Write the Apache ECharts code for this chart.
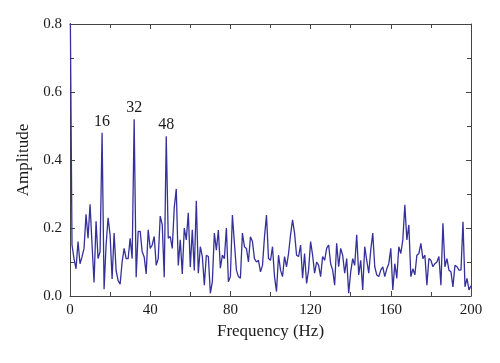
<!DOCTYPE html>
<html>
<head>
<meta charset="utf-8">
<script src="https://cdn.jsdelivr.net/npm/echarts@6/dist/echarts.min.js"></script>
<style>html,body{margin:0;padding:0;background:#fff;}#c{width:500px;height:363px;}</style>
</head>
<body>
<div id="c"></div>
<script>
// Frequency (Hz), 1 Hz step from 0 to 200
const freqs = Array.from({length: 201}, (_, i) => i);
const amplitude = [
  0.95, 0.15, 0.11, 0.08, 0.16, 0.095, 0.115, 0.14, 0.24, 0.17,
  0.27, 0.15, 0.04, 0.22, 0.11, 0.13, 0.48, 0.02, 0.15, 0.23,
  0.18, 0.05, 0.185, 0.075, 0.045, 0.035, 0.10, 0.14, 0.11, 0.11,
  0.17, 0.11, 0.52, 0.055, 0.19, 0.19, 0.13, 0.115, 0.065, 0.195,
  0.14, 0.15, 0.175, 0.09, 0.11, 0.235, 0.21, 0.055, 0.47, 0.17,
  0.175, 0.14, 0.26, 0.315, 0.09, 0.165, 0.065, 0.2, 0.165, 0.245,
  0.085, 0.195, 0.075, 0.28, 0.067, 0.145, 0.116, 0.032, 0.12, 0.116,
  0.008, 0.042, 0.185, 0.135, 0.194, 0.082, 0.12, 0.11, 0.2, 0.042,
  0.057, 0.238, 0.155, 0.076, 0.057, 0.052, 0.185, 0.145, 0.14, 0.10,
  0.174, 0.16, 0.11, 0.10, 0.105, 0.071, 0.09, 0.174, 0.238, 0.11,
  0.105, 0.145, 0.057, 0.013, 0.12, 0.076, 0.057, 0.116, 0.086, 0.125,
  0.18, 0.224, 0.185, 0.12, 0.116, 0.15, 0.052, 0.125, 0.037, 0.076,
  0.16, 0.12, 0.067, 0.10, 0.09, 0.057, 0.116, 0.105, 0.14, 0.15,
  0.095, 0.076, 0.032, 0.155, 0.086, 0.14, 0.12, 0.067, 0.11, 0.008,
  0.071, 0.11, 0.09, 0.18, 0.062, 0.105, 0.018, 0.145, 0.105, 0.067,
  0.135, 0.185, 0.086, 0.062, 0.057, 0.076, 0.086, 0.057, 0.08, 0.095,
  0.14, 0.018, 0.095, 0.052, 0.145, 0.125, 0.165, 0.268, 0.165, 0.209,
  0.057, 0.08, 0.062, 0.12, 0.125, 0.155, 0.11, 0.12, 0.032, 0.11,
  0.105, 0.086, 0.095, 0.10, 0.116, 0.032, 0.214, 0.086, 0.11, 0.076,
  0.071, 0.027, 0.09, 0.086, 0.076, 0.076, 0.218, 0.027, 0.052, 0.018,
  0.03
];
const peakLabels = [16, 32, 48];
const xTicks = {min: 0, max: 200, interval: 40};
const yTicks = {min: 0, max: 0.8, interval: 0.2};

const font = 'Liberation Serif';
const axisColor = '#444';
const textColor = '#1a1a1a';

const lineData = freqs.map((f, i) => [f, amplitude[i]]);
const peakData = peakLabels.map(f => [f, amplitude[freqs.indexOf(f)]]);

function baseAxis(extra) {
  return Object.assign({
    type: 'value',
    axisLine: {show: true, onZero: false, lineStyle: {color: axisColor, width: 1}},
    axisTick: {show: true, inside: true, length: 5, lineStyle: {color: axisColor}},
    minorTick: {show: true, splitNumber: 2, length: 4, lineStyle: {color: axisColor}},
    splitLine: {show: false},
    minorSplitLine: {show: false}
  }, extra);
}

const chart = echarts.init(document.getElementById('c'), null, {renderer: 'canvas'});
chart.setOption({
  animation: false,
  backgroundColor: '#fff',
  grid: {left: 70, right: 29, top: 24, bottom: 67},
  xAxis: [
    baseAxis(Object.assign({}, xTicks, {
      position: 'bottom',
      name: 'Frequency (Hz)', nameLocation: 'middle', nameGap: 27,
      nameTextStyle: {fontFamily: font, fontSize: 17, color: textColor},
      axisLabel: {fontFamily: font, fontSize: 15, color: textColor, margin: 7}
    })),
    baseAxis(Object.assign({}, xTicks, {position: 'top', axisLabel: {show: false}}))
  ],
  yAxis: [
    baseAxis(Object.assign({}, yTicks, {
      position: 'left',
      name: 'Amplitude', nameLocation: 'middle', nameGap: 32,
      nameTextStyle: {fontFamily: font, fontSize: 17, color: textColor},
      axisLabel: {fontFamily: font, fontSize: 15, color: textColor, margin: 8,
        formatter: v => v.toFixed(1)}
    })),
    baseAxis(Object.assign({}, yTicks, {position: 'right', axisLabel: {show: false}}))
  ],
  series: [{
    type: 'line',
    xAxisIndex: 0, yAxisIndex: 0,
    data: lineData,
    showSymbol: false,
    symbol: 'none',
    clip: true,
    lineStyle: {color: '#35309a', width: 1.3},
    emphasis: {disabled: true},
    z: 2
  }, {
    type: 'scatter',
    xAxisIndex: 0, yAxisIndex: 0,
    data: peakData,
    symbol: 'circle',
    symbolSize: 0.01,
    itemStyle: {color: textColor, opacity: 1},
    label: {show: true, position: 'top', distance: 3,
      formatter: p => String(p.value[0]),
      fontFamily: font, fontSize: 16, color: textColor, opacity: 1},
    emphasis: {disabled: true},
    z: 3
  }]
});
</script>
</body>
</html>
